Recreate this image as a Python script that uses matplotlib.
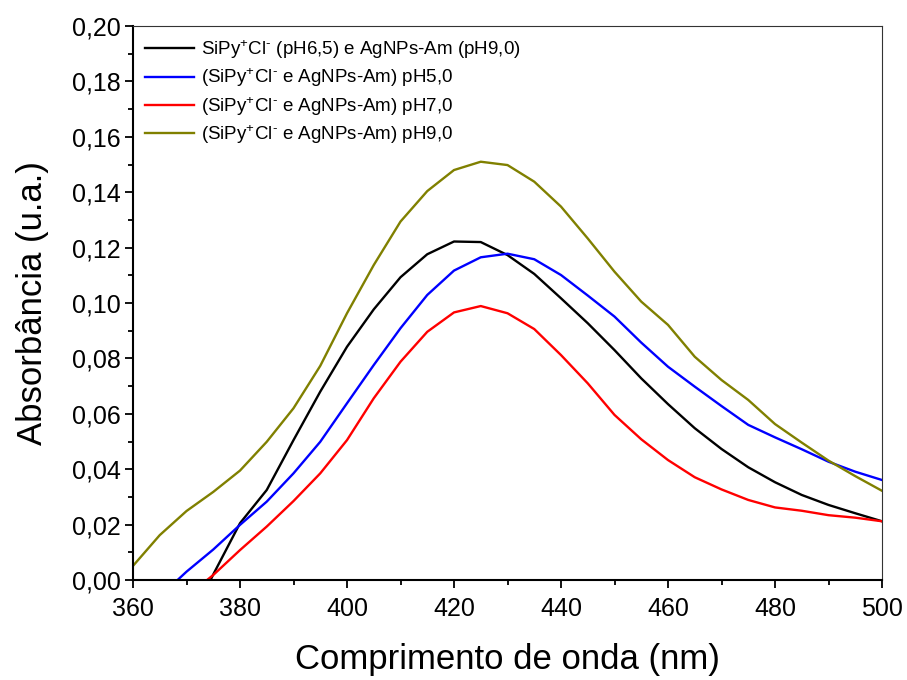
import matplotlib
matplotlib.use("Agg")
import matplotlib.pyplot as plt
from matplotlib.ticker import MultipleLocator, FuncFormatter

plt.rcParams['font.family'] = ['Liberation Sans', 'DejaVu Sans']
plt.rcParams['mathtext.fontset'] = 'custom'
plt.rcParams['mathtext.rm'] = 'Liberation Sans'
plt.rcParams['mathtext.default'] = 'regular'

wavelength = [360, 365, 370, 375, 380, 385, 390, 395, 400, 405, 410, 415, 420, 425, 430,
              435, 440, 445, 450, 455, 460, 465, 470, 475, 480, 485, 490, 495, 500]

black_ph65 = [-0.060, -0.040, -0.018, 0.002, 0.0205, 0.0325, 0.0505, 0.068, 0.0842, 0.0977,
              0.1093, 0.1176, 0.1222, 0.1220, 0.1173, 0.1105, 0.1017, 0.0927, 0.0830,
              0.0728, 0.0635, 0.0548, 0.0473, 0.0407, 0.0353, 0.0307, 0.0271, 0.0241, 0.0212]
blue_ph5 = [-0.015, -0.006, 0.003, 0.0110, 0.0199, 0.0283, 0.0385, 0.0499, 0.0638, 0.0776,
            0.0909, 0.1029, 0.1117, 0.1165, 0.1178, 0.1158, 0.1101, 0.1027, 0.0951,
            0.0857, 0.0770, 0.0698, 0.0628, 0.0560, 0.0515, 0.0472, 0.0427, 0.0391, 0.0361]
red_ph7 = [-0.025, -0.015, -0.006, 0.0018, 0.0108, 0.0193, 0.0285, 0.0385, 0.0505, 0.0656,
           0.0788, 0.0896, 0.0966, 0.0989, 0.0963, 0.0906, 0.0812, 0.0710, 0.0596,
           0.0508, 0.0433, 0.0371, 0.0327, 0.0289, 0.0262, 0.0250, 0.0234, 0.0225, 0.0212]
olive_ph9 = [0.0051, 0.0162, 0.0249, 0.0318, 0.0395, 0.0499, 0.0620, 0.0773, 0.0963, 0.1137,
             0.1294, 0.1404, 0.1480, 0.1510, 0.1498, 0.1438, 0.1348, 0.1233, 0.1113,
             0.1005, 0.0921, 0.0806, 0.0722, 0.0650, 0.0563, 0.0496, 0.0431, 0.0375, 0.0322]

labels = [
    r'SiPy$^{+}$Cl$^{\text{-}}$ (pH6,5) e AgNPs-Am (pH9,0)',
    r'(SiPy$^{+}$Cl$^{\text{-}}$ e AgNPs-Am) pH5,0',
    r'(SiPy$^{+}$Cl$^{\text{-}}$ e AgNPs-Am) pH7,0',
    r'(SiPy$^{+}$Cl$^{\text{-}}$ e AgNPs-Am) pH9,0',
]
colors = ['#000000', '#0000FF', '#FF0000', '#808000']

fig = plt.figure(figsize=(9.07, 6.8), dpi=100)
ax = fig.add_axes([133/907, 100/680, (882-133)/907, (580-26)/680])

for ys, c, lab in zip([black_ph65, blue_ph5, red_ph7, olive_ph9], colors, labels):
    ax.plot(wavelength, ys, color=c, lw=1.7, label=lab)

ax.set_xlim(360, 500)
ax.set_ylim(0, 0.20)
ax.xaxis.set_major_locator(MultipleLocator(20))
ax.xaxis.set_minor_locator(MultipleLocator(10))
ax.yaxis.set_major_locator(MultipleLocator(0.02))
ax.yaxis.set_minor_locator(MultipleLocator(0.01))
ax.yaxis.set_major_formatter(FuncFormatter(lambda v, p: f"{v:.2f}".replace('.', ',')))

ax.tick_params(which='both', direction='out', top=False, right=False, width=1.3,
               labelsize=18, colors='black')
ax.tick_params(axis='x', which='major', length=6, pad=6)
ax.tick_params(axis='y', which='major', length=6, pad=3)
ax.tick_params(which='minor', length=3.5)

for s in ['left', 'bottom']:
    ax.spines[s].set_linewidth(1.5)
for s in ['top', 'right']:
    ax.spines[s].set_linewidth(0.8)
    ax.spines[s].set_color('#333333')

ax.set_xlabel('Comprimento de onda (nm)', fontsize=25, labelpad=16)
ax.set_ylabel('Absorbância (u.a.)', fontsize=25, labelpad=16)

leg = ax.legend(loc='upper left', frameon=False, fontsize=13.5, handlelength=2.6,
                handletextpad=0.4, labelspacing=0.3, borderaxespad=0.25,
                bbox_to_anchor=(0.0, 1.0))

fig.savefig('out.png', dpi=100)
